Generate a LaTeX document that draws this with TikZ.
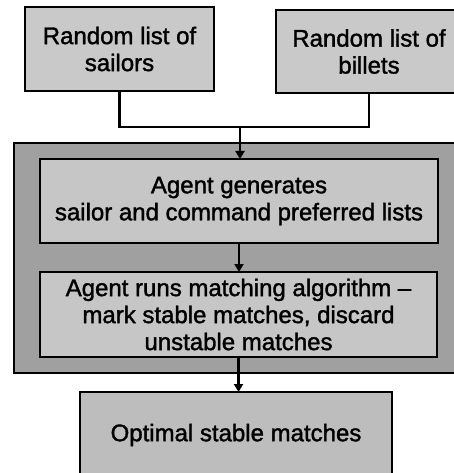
\documentclass[tikz,border=0pt]{standalone}
\usepackage{fontspec}
\setmainfont{Liberation Sans}
\newfontfamily\heavysans{Liberation Sans}[FakeBold=1.5]
\usetikzlibrary{arrows.meta}
\definecolor{boxgrey}{HTML}{C9C9C9}
\definecolor{framegrey}{HTML}{A0A0A0}
\definecolor{innergrey}{HTML}{C6C6C6}
\definecolor{resultgrey}{HTML}{BDBDBD}
\tikzset{
  stepbox/.style={draw=black, line width=2.6pt, fill=boxgrey, inner sep=0pt, outer sep=0pt,
    align=center, font=\heavysans\fontsize{24}{27}\selectfont},
  framebox/.style={draw=black, line width=2.6pt, fill=framegrey, inner sep=0pt, outer sep=0pt},
  link/.style={line width=2.6pt},
  flow/.style={line width=2.6pt, -{Triangle[length=8pt,width=9pt]}}
}
\begin{document}
\begin{tikzpicture}[x=1pt, y=-1pt]
  \useasboundingbox (0,0) rectangle (453,473);

  % input lists
  \node[stepbox, minimum width=189pt, minimum height=84pt] (sailors) at (119.5,49)
    {Random list of\\sailors};
  \node[stepbox, minimum width=186pt, minimum height=83pt] (billets) at (369,51.5)
    {Random list of\\billets};

  % agent frame with its two stages
  \node[framebox, minimum width=446pt, minimum height=230pt] (agent) at (237,258) {};
  \node[stepbox, fill=innergrey, minimum width=398pt, minimum height=84pt] (gen) at (239,201)
    {Agent generates\\sailor and command preferred lists};
  \node[stepbox, fill=innergrey, minimum width=397pt, minimum height=85pt] (run) at (238.5,314.5)
    {Agent runs matching algorithm –\\mark stable matches, discard\\unstable matches};

  % result
  \node[stepbox, fill=resultgrey, minimum width=312pt, minimum height=86pt] (result) at (236,435)
    {Optimal stable matches};

  % connectors
  \coordinate (join) at (240,127);
  \draw[link] (sailors.south) |- (join) -| (billets.south);
  \draw[flow] (join) -- (join |- gen.north);
  \draw[flow] (gen.south) -- (gen.south |- run.north);
  \draw[flow] (run.south) -- (run.south |- result.north);
\end{tikzpicture}
\end{document}
